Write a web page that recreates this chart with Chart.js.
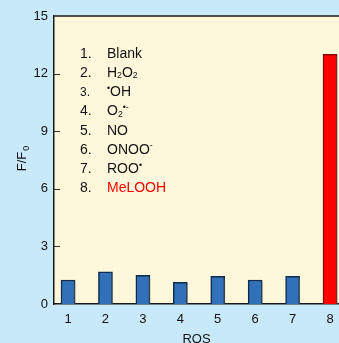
<!DOCTYPE html>
<html>
<head>
<meta charset="utf-8">
<script src="https://cdn.jsdelivr.net/npm/chart.js@4.4.0/dist/chart.umd.min.js"></script>
<style>
  html, body { margin: 0; padding: 0; background: #c8e9f9; overflow: hidden; }
  #wrap { width: 339px; height: 343px; position: relative; }
</style>
</head>
<body>
<div id="wrap"><canvas id="chart"></canvas></div>
<script>
// data
const ros = [1, 2, 3, 4, 5, 6, 7, 8];
const ratio = [1.25, 1.67, 1.49, 1.13, 1.44, 1.25, 1.44, 13.0];
const xTicks = [1, 2, 3, 4, 5, 6, 7, 8];
const yTicks = [0, 3, 6, 9, 12, 15];
const legendNums = ['1.', '2.', '3.', '4.', '5.', '6.', '7.', '8.'];
// _{..} subscript, ^{..} superscript
const legendNames = ['Blank', 'H_{2}O_{2}', '^{•}OH', 'O_{2}^{•-}', 'NO', 'ONOO^{-}', 'ROO^{•}', 'MeLOOH'];

const FONT = '"Liberation Sans", Arial, sans-serif';
const blue = '#3071b9', blueEdge = '#0f2c4c';
const red = '#ff0000', redEdge = '#8a0000';

// draw a string with simple sub/superscripts, returns end x
function richText(ctx, str, x, y, size, color) {
  const parts = str.split(/([_^]\{[^}]*\})/).filter(p => p);
  ctx.fillStyle = color;
  ctx.textBaseline = 'middle';
  ctx.textAlign = 'left';
  parts.forEach(p => {
    let dy = 0, sz = size, t = p;
    if (p[0] === '_') { t = p.slice(2, -1); sz = size * 0.62; dy = size * 0.2; }
    else if (p[0] === '^') { t = p.slice(2, -1); sz = size * 0.62; dy = -size * 0.28; }
    ctx.font = sz + 'px ' + FONT;
    ctx.fillText(t, x, y + dy);
    x += ctx.measureText(t).width;
  });
  return x;
}

const decor = {
  id: 'decor',
  beforeDraw(chart) {
    const { ctx, chartArea: a } = chart;
    ctx.save();
    ctx.fillStyle = '#fdf8dc';
    ctx.fillRect(a.left, a.top, a.right - a.left, a.bottom - a.top);
    ctx.restore();
  },
  beforeDatasetsDraw(chart) {
    const ctx = chart.ctx;
    ctx.save();
    ctx.shadowColor = 'rgba(90,90,90,0.45)';
    ctx.shadowOffsetX = 2;
    ctx.shadowOffsetY = 1;
    ctx.shadowBlur = 0;
  },
  afterDatasetsDraw(chart) {
    chart.ctx.restore();
  },
  afterDraw(chart) {
    const { ctx, chartArea: a, scales } = chart;
    ctx.save();
    // top frame line
    ctx.strokeStyle = '#1a1a1a';
    ctx.lineWidth = 1.5;
    ctx.beginPath();
    ctx.moveTo(a.left, a.top);
    ctx.lineTo(a.right, a.top);
    ctx.stroke();
    // inward y ticks
    ctx.lineWidth = 1;
    ctx.strokeStyle = '#333';
    yTicks.slice(1, -1).forEach(v => {
      const y = Math.round(scales.y.getPixelForValue(v)) + 0.5;
      ctx.beginPath();
      ctx.moveTo(a.left, y);
      ctx.lineTo(a.left + 6, y);
      ctx.stroke();
    });
    // legend list
    legendNums.forEach((n, i) => {
      const y = 54 + i * 19.2;
      const col = i === legendNums.length - 1 ? red : '#111';
      richText(ctx, n, 80, y, i === 2 ? 12 : 14, '#111');
      richText(ctx, legendNames[i], 107, y, 14, col);
    });
    // axis titles
    ctx.fillStyle = '#111';
    ctx.font = '13px ' + FONT;
    ctx.textAlign = 'center';
    ctx.textBaseline = 'middle';
    ctx.fillText('ROS', (a.left + a.right) / 2, 339);
    ctx.translate(22, 159);
    ctx.rotate(-Math.PI / 2);
    ctx.font = '13px ' + FONT;
    const w1 = ctx.measureText('F/F').width;
    ctx.font = '9px ' + FONT;
    const w2 = ctx.measureText('0').width;
    const x0 = -(w1 + w2) / 2;
    ctx.textAlign = 'left';
    ctx.font = '13px ' + FONT;
    ctx.fillText('F/F', x0, 0);
    ctx.font = '9px ' + FONT;
    ctx.fillText('0', x0 + w1 + 1, 5);
    ctx.restore();
  }
};

new Chart(document.getElementById('chart'), {
  type: 'bar',
  data: {
    datasets: [{
      data: ros.map((r, i) => ({ x: r, y: ratio[i] })),
      backgroundColor: ros.map(r => r === 8 ? red : blue),
      borderColor: ros.map(r => r === 8 ? redEdge : blueEdge),
      borderWidth: 1.5,
      barThickness: 14
    }]
  },
  options: {
    responsive: true,
    maintainAspectRatio: false,
    animation: false,
    layout: { padding: { top: 16, right: 0, left: 0, bottom: 0 } },
    plugins: { legend: { display: false }, tooltip: { enabled: false } },
    scales: {
      x: {
        type: 'linear',
        offset: false,
        min: 0.626,
        max: 8.24,
        afterBuildTicks: s => { s.ticks = xTicks.map(v => ({ value: v })); },
        afterFit: s => { s.height = 39; s.paddingLeft = 0; s.paddingRight = 0; },
        grid: { display: false, drawTicks: false },
        border: { color: '#1a1a1a', width: 1.5 },
        ticks: { padding: 8, color: '#111', font: { family: FONT, size: 13 } }
      },
      y: {
        min: 0,
        max: 15,
        afterBuildTicks: s => { s.ticks = yTicks.map(v => ({ value: v })); },
        afterFit: s => { s.width = 54; },
        grid: { display: false, drawTicks: false },
        border: { color: '#1a1a1a', width: 1.5 },
        ticks: { padding: 6, color: '#111', font: { family: FONT, size: 13 } }
      }
    }
  },
  plugins: [decor]
});
</script>
</body>
</html>
